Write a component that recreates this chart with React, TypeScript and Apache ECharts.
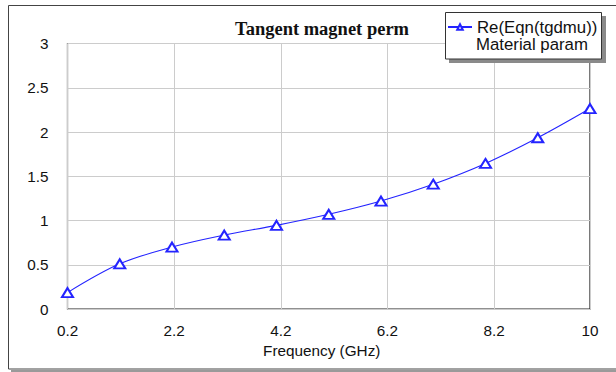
import React, { useEffect, useRef } from "react";
import * as echarts from "echarts";

const freqGHz = [0.2, 1.18, 2.16, 3.14, 4.12, 5.1, 6.08, 7.06, 8.04, 9.02, 10];
const tgdmu = [0.185, 0.51, 0.7, 0.835, 0.945, 1.07, 1.22, 1.41, 1.645, 1.935, 2.265];
const seriesName = "Re(Eqn(tgdmu))";
const legendSub = "Material param";
const titleText = "Tangent magnet perm";
const xAxisName = "Frequency (GHz)";

const SANS = '"Liberation Sans", Arial, sans-serif';
const SERIF = '"Liberation Serif", "Times New Roman", serif';

export default function App() {
  const ref = useRef<HTMLDivElement>(null);
  useEffect(() => {
    document.body.style.margin = "0";
    const chart = echarts.init(ref.current!, null, { renderer: "svg" });
    const data = freqGHz.map((x, i) => [x, tgdmu[i]]);
    chart.setOption({
      animation: false,
      backgroundColor: "#ffffff",
      grid: {
        left: 67.5,
        top: 43.5,
        width: 522.5,
        height: 265.5,
        show: true,
        borderColor: "#222",
        borderWidth: 1.2,
        backgroundColor: "transparent",
        containLabel: false,
      },
      xAxis: {
        type: "value",
        min: 0.2,
        max: 10,
        interval: 2,
        name: xAxisName,
        nameLocation: "middle",
        nameGap: 32,
        nameTextStyle: { fontFamily: SANS, fontSize: 15.3, color: "#111", padding: [0, 14, 0, 0] },
        axisLine: { show: false },
        axisTick: { show: false },
        axisLabel: {
          fontFamily: SANS,
          fontSize: 15.3,
          color: "#111",
          margin: 14,
          showMinLabel: true,
          showMaxLabel: true,
        },
        splitLine: { show: true, lineStyle: { color: "#cccccc", width: 1 } },
      },
      yAxis: {
        type: "value",
        min: 0,
        max: 3,
        interval: 0.5,
        axisLine: { show: false },
        axisTick: { show: false },
        axisLabel: { fontFamily: SANS, fontSize: 15.3, color: "#111", margin: 19 },
        splitLine: { show: true, lineStyle: { color: "#cccccc", width: 1 } },
      },
      legend: {
        show: true,
        data: [seriesName],
        left: 447,
        top: 18.5,
        padding: 0,
        itemWidth: 24,
        itemHeight: 7,
        z: 120,
        textStyle: { fontFamily: SANS, fontSize: 16.8, color: "#111" },
      },
      series: [
        {
          name: seriesName,
          type: "line",
          data,
          smooth: 0.35,
          symbol: "emptyTriangle",
          symbolSize: [11, 9],
          showAllSymbol: true,
          lineStyle: { color: "#2424ff", width: 1.1 },
          itemStyle: { color: "#2424ff", borderColor: "#2424ff", borderWidth: 1 },
          z: 5,
        },
      ],
      graphic: [
        {
          type: "rect",
          z: 1,
          silent: true,
          shape: { x: 8.5, y: 5.5, width: 700, height: 363.5 },
          style: { fill: "transparent", stroke: "#444", lineWidth: 1 },
        },
        {
          type: "rect",
          z: 1,
          silent: true,
          shape: { x: 11, y: 370, width: 700, height: 3 },
          style: { fill: "#9a9a9a" },
        },
        {
          type: "text",
          z: 5,
          x: 322,
          y: 29,
          style: {
            text: titleText,
            font: `bold 18.5px ${SERIF}`,
            fill: "#111",
            align: "center",
            verticalAlign: "middle",
          },
        },
        {
          type: "rect",
          z: 100,
          silent: true,
          shape: { x: 449, y: 16, width: 157, height: 47 },
          style: { fill: "#8a8a8a" },
        },
        {
          type: "rect",
          z: 101,
          silent: true,
          shape: { x: 445.5, y: 12.5, width: 156, height: 46.5 },
          style: { fill: "#ffffff", stroke: "#333", lineWidth: 1 },
        },
        {
          type: "text",
          z: 110,
          x: 476,
          y: 44.5,
          style: {
            text: legendSub,
            font: `16.8px ${SANS}`,
            fill: "#111",
            align: "left",
            verticalAlign: "middle",
          },
        },
      ],
    });
    return () => chart.dispose();
  }, []);
  return (
    <div
      ref={ref}
      style={{ position: "fixed", left: 0, top: 0, width: 616, height: 372 }}
    />
  );
}
